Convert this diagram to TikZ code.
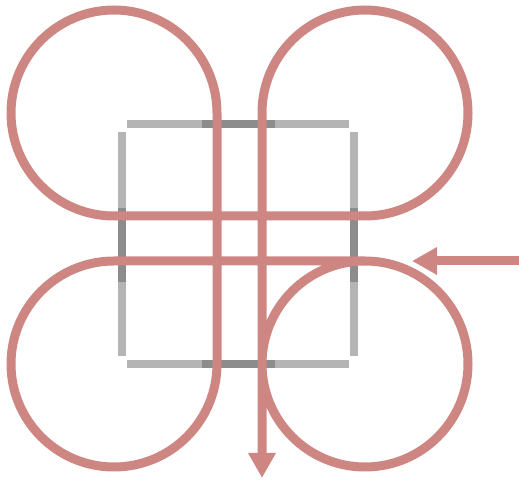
\documentclass[tikz,border=0pt]{standalone}
\usepackage{tikz}
\usetikzlibrary{arrows.meta,calc}
\definecolor{ropered}{HTML}{CE8682}
\definecolor{framegray}{HTML}{B4B4B4}
\definecolor{framedark}{HTML}{8C8C8C}

\begin{document}
\begin{tikzpicture}[x=1pt,y=1pt,
  rope/.style={draw=ropered,line width=9pt},
  edge/.style={draw=framegray,line width=8.5pt},
  edgedark/.style={draw=framedark,line width=8.5pt},
  tip/.style={-{Triangle[length=25pt,width=26pt]}}]
  \useasboundingbox (0,0) rectangle (519,481);
  % square frame, corners left open
  \draw[edge] (127,357) -- (349,357);
  \draw[edge] (127,117) -- (349,117);
  \draw[edge] (122,349) -- (122,125);
  \draw[edge] (354,349) -- (354,125);
  \draw[edgedark] (202,357) -- (275,357);
  \draw[edgedark] (202,117) -- (275,117);
  \draw[edgedark] (122,273) -- (122,199);
  \draw[edgedark] (354,273) -- (354,199);
  % points on the rope
  \coordinate (brtop) at (365,220);
  \coordinate (bltop) at (114,220);
  \coordinate (tlright) at (217,368);
  \coordinate (trbottom) at (365,265);
  \coordinate (exit) at (262,3);
  \coordinate (entry) at (519,220);
  \coordinate (entrytip) at (412,220);
  % the rope: four loops
  \draw[rope,tip] (brtop) arc[start angle=90,end angle=450,radius=103]
    -- (bltop) arc[start angle=90,end angle=360,radius=103]
    -- (tlright) arc[start angle=0,end angle=270,radius=103]
    -- (trbottom) arc[start angle=270,end angle=540,radius=103]
    -- (exit);
  \draw[rope,tip] (entry) -- (entrytip);
\end{tikzpicture}
\end{document}
